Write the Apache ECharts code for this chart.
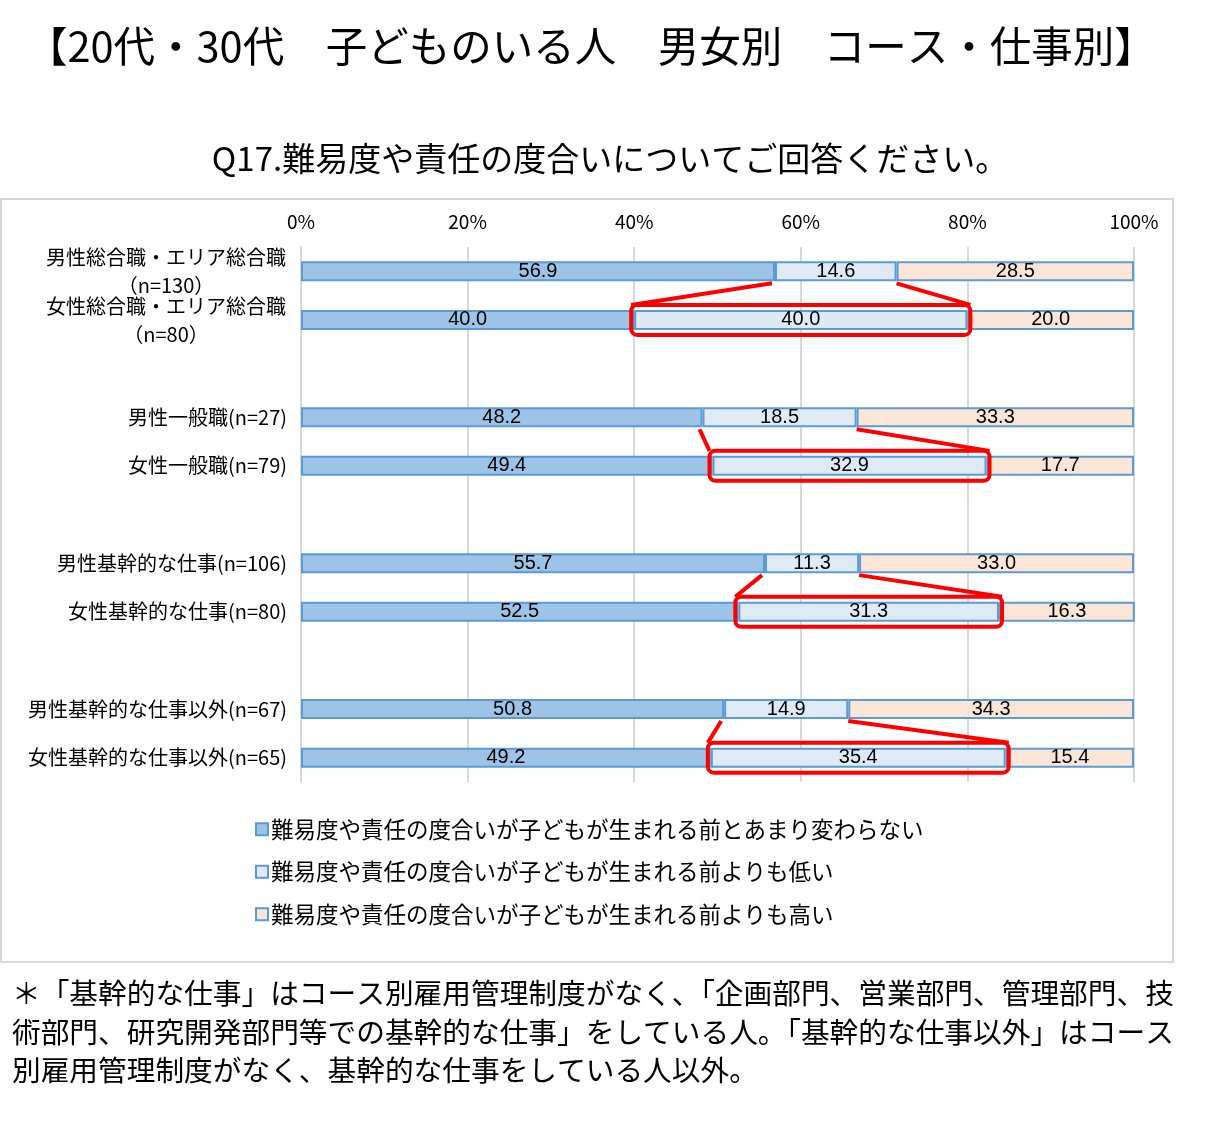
<!DOCTYPE html>
<html>
<head>
<meta charset="utf-8">
<script src="https://cdn.jsdelivr.net/npm/echarts@6/dist/echarts.min.js"></script>
<style>
html,body{margin:0;padding:0;background:#fff;}
#c{width:1220px;height:1125px;}
</style>
</head>
<body>
<div id="c"></div>
<script>
const titleText = '【20代・30代　子どものいる人　男女別　コース・仕事別】';
const subtitleText = 'Q17.難易度や責任の度合いについてご回答ください。';
const categories = [
  '男性総合職・エリア総合職\n（n=130）',
  '女性総合職・エリア総合職\n（n=80）',
  ' ',
  '男性一般職(n=27)',
  '女性一般職(n=79)',
  '  ',
  '男性基幹的な仕事(n=106)',
  '女性基幹的な仕事(n=80)',
  '   ',
  '男性基幹的な仕事以外(n=67)',
  '女性基幹的な仕事以外(n=65)'
];
const seriesNames = [
  '難易度や責任の度合いが子どもが生まれる前とあまり変わらない',
  '難易度や責任の度合いが子どもが生まれる前よりも低い',
  '難易度や責任の度合いが子どもが生まれる前よりも高い'
];
const sameValues  = [56.9, 40.0, null, 48.2, 49.4, null, 55.7, 52.5, null, 50.8, 49.2];
const lowerValues = [14.6, 40.0, null, 18.5, 32.9, null, 11.3, 31.3, null, 14.9, 35.4];
const higherValues= [28.5, 20.0, null, 33.3, 17.7, null, 33.0, 16.3, null, 34.3, 15.4];
const xTicks = [0, 20, 40, 60, 80, 100];
// highlighted pairs: [male row index, female row index]
const highlightPairs = [[0, 1], [3, 4], [6, 7], [9, 10]];
const footnoteLines = [
  '＊「基幹的な仕事」はコース別雇用管理制度がなく、「企画部門、営業部門、管理部門、技',
  '術部門、研究開発部門等での基幹的な仕事」をしている人。「基幹的な仕事以外」はコース',
  '別雇用管理制度がなく、基幹的な仕事をしている人以外。'
];

const fills = ['#9dc3e6', '#deebf7', '#fbe5d6'];
const FONT = '"Noto Sans CJK JP", sans-serif';

const highlightData = highlightPairs.map(([m, f]) => [
  sameValues[m], m, sameValues[m] + lowerValues[m],
  sameValues[f], f, sameValues[f] + lowerValues[f]
]);

const chart = echarts.init(document.getElementById('c'));

function barSeries(name, data, idx) {
  return {
    name: name,
    type: 'bar',
    stack: 'total',
    barWidth: 20,
    data: data,
    itemStyle: { color: fills[idx], borderColor: '#5b9bd5', borderWidth: 2 },
    label: {
      show: true, position: 'inside', color: '#000',
      fontFamily: '"Liberation Sans Narrow", "Liberation Sans", sans-serif',
      fontSize: 20,
      formatter: p => (p.value == null ? '' : Number(p.value).toFixed(1))
    },
    emphasis: { disabled: true },
    silent: true
  };
}

const option = {
  animation: false,
  backgroundColor: '#fff',
  textStyle: { fontFamily: FONT },
  graphic: [
    { type: 'rect', shape: { x: 1, y: 199, width: 1172, height: 763 },
      style: { fill: 'none', stroke: '#d9d9d9', lineWidth: 2 }, z: 0 },
    { type: 'text', left: 26, top: 25,
      style: { text: titleText, font: '41.5px ' + FONT, fill: '#000' } },
    { type: 'text', left: 'center', top: 142,
      style: { text: subtitleText, font: '33px ' + FONT, fill: '#000' } }
  ].concat(footnoteLines.map((t, i) => ({
    type: 'text', left: 12, top: 979 + i * 38.5,
    style: { text: t, font: '28.7px ' + FONT, fill: '#000' }
  }))),
  grid: { left: 301, right: 86, top: 247, bottom: 343, containLabel: false },
  xAxis: {
    type: 'value', position: 'top', min: 0, max: 100, interval: 20,
    axisLine: { show: false }, axisTick: { show: false },
    splitLine: { show: true, lineStyle: { color: '#d9d9d9', width: 2 } },
    axisLabel: {
      margin: 16, color: '#000', fontSize: 19, fontFamily: FONT,
      formatter: v => (xTicks.indexOf(v) >= 0 ? v + '%' : '')
    }
  },
  yAxis: {
    type: 'category', inverse: true, data: categories,
    axisLine: { show: true, lineStyle: { color: '#d9d9d9', width: 2 } },
    axisTick: { show: false },
    axisLabel: {
      margin: 14, color: '#000', fontSize: 20, fontFamily: FONT,
      formatter: v => {
        if (v.indexOf('\n') >= 0) {
          const parts = v.split('\n');
          return '{a|' + parts[0] + '}\n{a|' + parts[1] + '}';
        }
        return v.trim();
      },
      rich: { a: { width: 242, align: 'center', fontSize: 20, lineHeight: 28, color: '#000', fontFamily: FONT } }
    }
  },
  legend: {
    orient: 'vertical', left: 250, top: 813, itemGap: 20,
    itemWidth: 12, itemHeight: 12, icon: 'rect',
    textStyle: { fontSize: 22.5, color: '#000', fontFamily: FONT, padding: [0, 0, 0, -2] },
    data: seriesNames, selectedMode: false
  },
  series: [
    barSeries(seriesNames[0], sameValues, 0),
    barSeries(seriesNames[1], lowerValues, 1),
    barSeries(seriesNames[2], higherValues, 2),
    {
      type: 'custom',
      name: 'highlight',
      data: highlightData,
      encode: { x: [0, 2, 3, 5], y: [1, 4] },
      clip: false,
      silent: true,
      z: 10,
      renderItem: function (params, api) {
        const ms = api.coord([api.value(0), api.value(1)]);
        const me = api.coord([api.value(2), api.value(1)]);
        const fs = api.coord([api.value(3), api.value(4)]);
        const fe = api.coord([api.value(5), api.value(4)]);
        const rx = fs[0] - 3, rw = fe[0] - fs[0] + 6;
        const ry = fs[1] - 15, rh = 30;
        const red = { stroke: '#ff0000', lineWidth: 4, fill: 'none' };
        return {
          type: 'group',
          children: [
            { type: 'rect', shape: { x: rx, y: ry, width: rw, height: rh, r: 6 }, style: red },
            { type: 'line', shape: { x1: ms[0] - 3, y1: ms[1] + 12, x2: rx, y2: ry }, style: red },
            { type: 'line', shape: { x1: me[0], y1: me[1] + 12, x2: rx + rw, y2: ry }, style: red }
          ]
        };
      }
    }
  ]
};
chart.setOption(option);
</script>
</body>
</html>
